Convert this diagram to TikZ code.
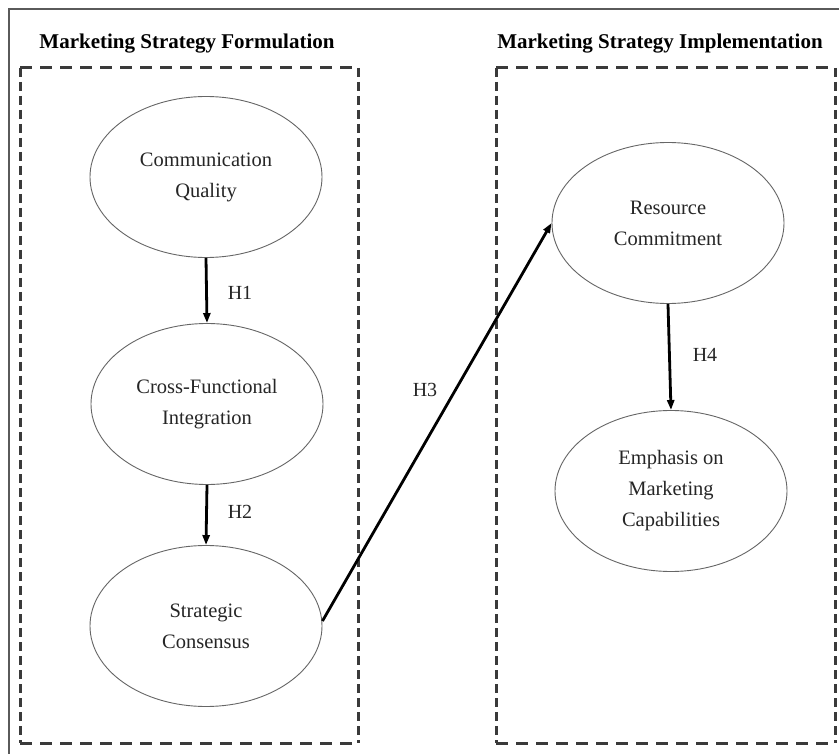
\documentclass[tikz,border=0pt]{standalone}
\usepackage{fontspec}
\setmainfont{Liberation Serif}
\usetikzlibrary{shapes.geometric,arrows.meta}

\definecolor{framegray}{HTML}{5A5A5A}
\definecolor{dashgray}{HTML}{3A3A3A}
\definecolor{inkgray}{HTML}{262626}

\tikzset{
  construct/.style={ellipse, draw=gray!80!black, line width=0.9pt,
    minimum width=232pt, minimum height=161pt, inner sep=0pt,
    align=center, text=inkgray, font=\fontsize{20.5}{31}\selectfont},
  hypo/.style={-{Triangle[length=10pt,width=7pt]}, line width=2.8pt, black},
  hlabel/.style={text=inkgray, font=\fontsize{20}{24}\selectfont},
  groupname/.style={text=black, font=\bfseries\fontsize{21}{24}\selectfont},
  hside/.style={dashgray, line width=3pt, dash pattern=on 12pt off 8pt},
  vside/.style={dashgray, line width=3pt, dash pattern=on 9pt off 5pt},
}

\begin{document}
\begin{tikzpicture}[x=1pt,y=-1pt]
  \path[use as bounding box, clip] (0,0) rectangle (839,754);
  \fill[white] (0,0) rectangle (839,754);

  % outer frame
  \draw[framegray, line width=1.8pt] (9,9) rectangle (860,775);

  % group frames
  \coordinate (fa) at (20,68);  \coordinate (fb) at (358,68);
  \coordinate (fc) at (358,743); \coordinate (fd) at (20,743);
  \coordinate (ia) at (496,68);  \coordinate (ib) at (835,68);
  \coordinate (ic) at (835,743); \coordinate (id) at (496,743);
  \draw[hside] (fa) -- (fb);
  \draw[hside] (fd) -- (fc);
  \draw[vside] (fa) -- (fd);
  \draw[vside] (fb) -- (fc);
  \draw[hside] (ia) -- (ib);
  \draw[hside] (id) -- (ic);
  \draw[vside] (ia) -- (id);
  \draw[vside] (ib) -- (ic);

  % group titles
  \node[groupname] (tf) at (187,44) {Marketing Strategy Formulation};
  \node[groupname] (ti) at (660,44) {Marketing Strategy Implementation};

  % constructs
  \node[construct] (cq) at (206,177) {Communication\\Quality};
  \node[construct] (cf) at (207,404) {Cross-Functional\\Integration};
  \node[construct] (sc) at (206,626) {Strategic\\Consensus};
  \node[construct] (rc) at (668,223) {Resource\\Commitment};
  \node[construct] (em) at (671,491) {Emphasis on\\Marketing\\Capabilities};

  % hypothesised paths
  \draw[hypo] (cq.south) -- (cf.north);
  \draw[hypo] (cf.south) -- (sc.north);
  \draw[hypo] (sc.east) ++(0,-5) coordinate (scout) -- (rc.west);
  \draw[hypo] (rc.south) -- (em.north);

  % path labels
  \node[hlabel] (h1) at (240,293) {H1};
  \node[hlabel] (h2) at (240,512) {H2};
  \node[hlabel] (h3) at (425,390) {H3};
  \node[hlabel] (h4) at (705,355) {H4};
\end{tikzpicture}
\end{document}
